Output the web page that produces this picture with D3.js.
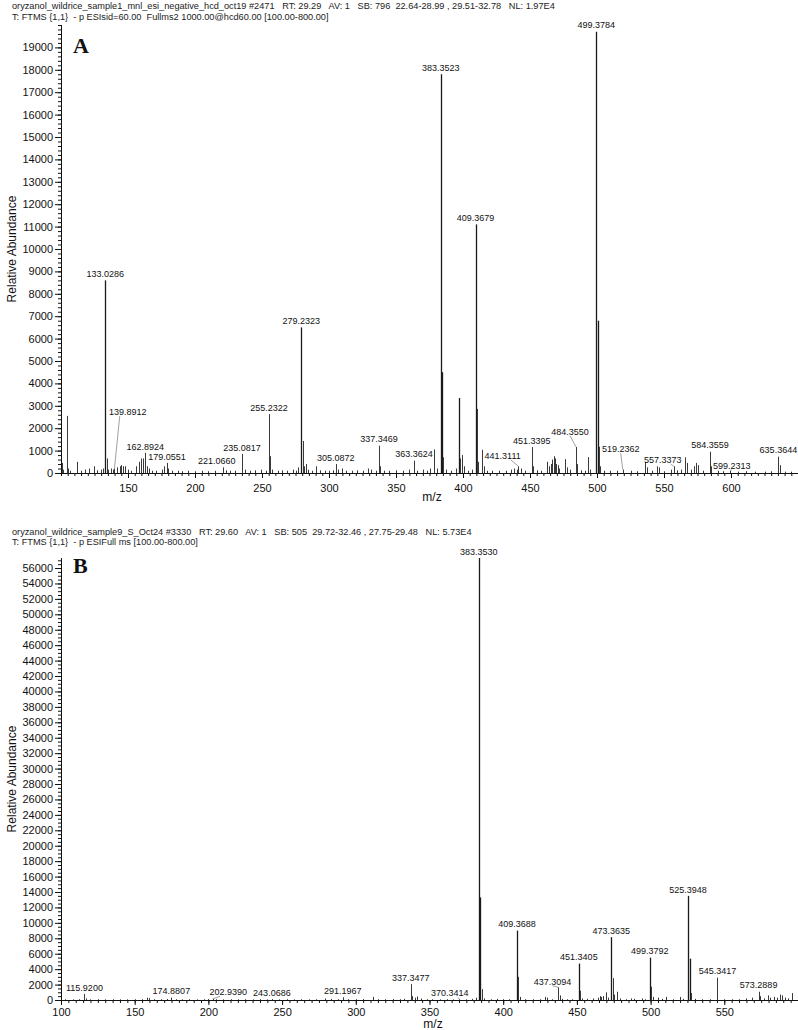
<!DOCTYPE html>
<html><head><meta charset="utf-8">
<script src="https://cdn.jsdelivr.net/npm/d3@7"></script>
<style>
body{margin:0;background:#fff}
svg{display:block}
</style>
</head><body>
<svg id="chart" width="798" height="1030"></svg>
<script>
// ---------------- DATA ----------------
const headerA = [
  "oryzanol_wildrice_sample1_mnl_esi_negative_hcd_oct19 #2471   RT: 29.29   AV: 1   SB: 796  22.64-28.99 , 29.51-32.78   NL: 1.97E4",
  "T: FTMS {1,1}  - p ESIsid=60.00  Fullms2 1000.00@hcd60.00 [100.00-800.00]"
];
const headerB = [
  "oryzanol_wildrice_sample9_S_Oct24 #3330   RT: 29.60   AV: 1   SB: 505  29.72-32.46 , 27.75-29.48   NL: 5.73E4",
  "T: FTMS {1,1}  - p ESIFull ms [100.00-800.00]"
];
const axisTitleY = "Relative Abundance";
const axisTitleX = "m/z";

const xTicksA = [150,200,250,300,350,400,450,500,550,600];
const yTicksA = d3.range(0, 19001, 1000);
const xTicksB = [100,150,200,250,300,350,400,450,500,550];
const yTicksB = d3.range(0, 56001, 2000);

// peaks: [m/z, abundance]
const peaksA = [
 [100.6,450],[101.5,150],[104.2,2550],[105.3,200],[107,100],[111.7,500],[115,100],[118,150],[121,200],[124.3,300],
 [127,120],[130,150],[131.5,200],[133.0286,8600],[134.03,650],[135,150],[137,200],[138.5,150],[139.8912,200],[142,250],
 [144,300],[145,350],[146.5,300],[148,300],[150,150],[152,100],[156,300],[158,500],[159.5,650],[160.9,650],
 [162.8924,900],[164,300],[165.5,200],[168,100],[171,100],[175,150],[177,300],[179.0551,450],[180,200],[183,100],
 [187,100],[190,80],[195,100],[200,80],[205,100],[210,80],[215,100],[221.0660,250],[223,120],[226,100],
 [230,100],[235.0817,850],[237,150],[241,100],[245,120],[249,150],[253,100],[255.2322,2630],[256.23,750],[257.2,150],
 [262,100],[265,120],[269,100],[273,150],[275,100],[277.2,250],[279.2323,6500],[280.23,1430],[281.2,300],[283.2,400],
 [284,150],[287,100],[290,300],[293,120],[297,100],[300,100],[303,120],[305.0872,400],[307,150],[310,200],
 [313,100],[317,100],[321,120],[325,100],[329,200],[331,150],[335,100],[337.3469,1220],[338.35,300],[341,100],
 [345,100],[350,120],[355,100],[360,150],[363.3624,550],[366,100],[370,150],[373,100],[375,200],[378.3,1050],
 [380.5,200],[383.3523,17800],[384.35,4500],[385.36,700],[387,150],[391,100],[395,200],[396.9,3350],[398.0,650],[399.0,800],
 [401,300],[404,100],[407,150],[409.3679,11100],[410.37,2860],[411.38,500],[414.3,1040],[415.3,300],[418,100],[422,100],
 [427,100],[432,100],[436,150],[438,200],[440,150],[441.3111,300],[443,200],[446,100],[451.3395,1160],[452.34,300],
 [455,120],[458,100],[462.4,500],[464,300],[465.5,400],[466.5,600],[467.6,750],[468.5,650],[469.5,400],[471,350],
 [472,200],[476.1,620],[477.3,250],[480,150],[484.3550,1160],[485.36,400],[488,120],[491,100],[493,710],[495,150],
 [499.3784,19700],[500.38,6800],[501.38,1170],[502.4,300],[505,100],[510,100],[515,100],[519.2362,150],[525,100],[530,80],
 [535.8,480],[537,250],[541,100],[545,300],[546,250],[550,80],[555,150],[557.3373,300],[560,120],[563,150],
 [565.7,700],[567.5,450],[570,150],[572.5,300],[574,450],[575.5,350],[579,100],[584.3559,950],[585.36,300],[590,100],
 [594,80],[599.2313,100],[605,60],[611,80],[618,60],[625,60],[630,80],[635.3644,730],[636.37,350],[640,60],[645,60]
];
const peaksB = [
 [103,100],[108,80],[112,100],[115.9200,770],[116.92,200],[120,80],[125,100],[130,80],[135,100],[140,80],
 [145,80],[150,100],[155,100],[158.5,300],[160,250],[163,100],[168,100],[172,120],[174.8807,300],[178,100],
 [182,80],[187,100],[192,80],[197,100],[200,120],[202.9390,150],[205,100],[210,80],[215,100],[220,80],
 [225,100],[230,80],[235,100],[240,80],[243.0686,120],[248,80],[253,100],[258,80],[263,100],[268,80],
 [273,100],[279,200],[283,150],[288,100],[291.1967,350],[295,100],[300,100],[305,120],[311.5,400],[315,100],
 [320,100],[325,120],[330,100],[333,150],[337.3477,2060],[338.35,500],[340,300],[341.3,450],[344,200],[348,100],
 [352,100],[357,80],[362,100],[366,80],[370.3414,100],[375,80],[379,150],[381.5,300],[383.3530,57300],[384.35,13300],
 [385.36,1400],[387,200],[392,100],[396,150],[400,100],[404,100],[409.3688,9000],[410.37,3000],[411.4,400],[415,100],
 [420,100],[425,100],[428.5,400],[430,300],[433,100],[437.3094,1650],[438.31,600],[440,150],[443,100],[447,100],
 [451.3405,4720],[452.34,1200],[453.3,200],[457,150],[461,200],[464,300],[465.5,500],[466.5,400],[468,500],[469.5,1000],
 [471,300],[473.3635,8150],[474.37,2830],[475.37,700],[477.5,1070],[479,200],[483,100],[487,200],[489,150],[494,200],
 [496,100],[499.3792,5490],[500.38,1720],[501.4,400],[505,300],[508,150],[510.5,400],[515,100],[520,400],[522,150],
 [525.3948,13500],[526.4,5360],[527.4,900],[530,150],[535,100],[540,100],[545.3417,2900],[550,100],[555,100],[560,100],
 [565,200],[569,300],[573.2889,1070],[574.3,500],[577,200],[579.5,600],[581,300],[583.5,400],[586,300],[588,700],
 [589,600],[591,300],[593,200],[596,900]
];

// labelled peaks (text = m/z)
const labelsA = ["133.0286","139.8912","162.8924","179.0551","221.0660","235.0817","255.2322","279.2323","305.0872",
 "337.3469","363.3624","383.3523","409.3679","441.3111","451.3395","484.3550","499.3784","519.2362","557.3373",
 "584.3559","599.2313","635.3644"];
const labelsB = ["115.9200","174.8807","202.9390","243.0686","291.1967","337.3477","370.3414","383.3530","409.3688",
 "437.3094","451.3405","473.3635","499.3792","525.3948","545.3417","573.2889"];

// ---------------- LAYOUT ----------------
const FONT = '"Liberation Sans",Arial,Helvetica,sans-serif';
const SERIF = '"Liberation Serif","Times New Roman",serif';
// labels moved off their peak (placed in data units, joined by a leader line)
const movedA = {"139.8912":[149.8,2720],"221.0660":[216.3,null],"441.3111":[429.6,770],"484.3550":[479.9,1840],
  "519.2362":[517.7,1060],"557.3373":[549.0,580],"599.2313":[600.5,330]};
const movedB = {"202.9390":[213.4,1000],"370.3414":[363.7,870],"437.3094":[433.4,2370]};

const panels = [
  {letter:"A", header:headerA, headerY:[8.5,19.5], peaks:peaksA, labels:labelsA, moved:movedA,
   xDomain:[100,650], yDomain:[0,20000], top:25, bottom:473, xTicks:xTicksA, yTicks:yTicksA,
   xMinor:5, yMinor:200, letterY:53, mzX:432, mzY:501, tickLabelY:492, titleY:249},
  {letter:"B", header:headerB, headerY:[535,544.5], peaks:peaksB, labels:labelsB, moved:movedB,
   xDomain:[100,600], yDomain:[0,57300], top:558, bottom:1000, xTicks:xTicksB, yTicks:yTicksB,
   xMinor:5, yMinor:500, letterY:573, mzX:433, mzY:1028, tickLabelY:1016, titleY:779}
];

const LEFT = 61, RIGHT = 798;
const svg = d3.select("#chart");

panels.forEach(p => {
  const g = svg.append("g");
  const x = d3.scaleLinear().domain(p.xDomain).range([LEFT, RIGHT]);
  const y = d3.scaleLinear().domain(p.yDomain).range([p.bottom, p.top]);

  // header
  g.append("g").selectAll("text").data(p.header).join("text")
    .attr("x", 12).attr("y", (d,i) => p.headerY[i])
    .attr("xml:space","preserve").style("white-space","pre")
    .style("font-family", FONT).style("font-size","9.2px").attr("fill","#222")
    .text(d => d);

  // peaks
  g.append("g").selectAll("line").data(p.peaks).join("line")
    .attr("x1", d => Math.round(x(d[0])) + 0.5).attr("x2", d => Math.round(x(d[0])) + 0.5)
    .attr("y1", y(0)).attr("y2", d => y(d[1]))
    .attr("stroke", d => d[1] > 3000 ? "#1a1a1a" : "#3a3a3a")
    .attr("stroke-width", d => d[1] > 3000 ? 1.3 : 1);

  // y axis minor + major
  const yMinorVals = d3.range(p.yDomain[0], p.yDomain[1] + 1, p.yMinor);
  g.append("g").attr("transform", `translate(${LEFT},0)`)
    .call(d3.axisLeft(y).tickValues(yMinorVals).tickSize(3).tickSizeOuter(0).tickFormat(""))
    .call(a => a.select(".domain").remove())
    .selectAll("line").attr("stroke","#111");
  const ya = g.append("g").attr("transform", `translate(${LEFT},0)`)
    .call(d3.axisLeft(y).tickValues(p.yTicks).tickSize(6).tickSizeOuter(0).tickPadding(2).tickFormat(d3.format("d")));
  ya.select(".domain").attr("d", `M0.5,${p.top}V${p.bottom}`);
  ya.selectAll("text").style("font-size","11px").style("font-family", FONT).attr("fill","#111");
  ya.selectAll("line,path").attr("stroke","#111");

  // x axis minor + major
  const xMinorVals = d3.range(p.xDomain[0], p.xDomain[1] + 0.1, p.xMinor);
  g.append("g").attr("transform", `translate(0,${p.bottom})`)
    .call(d3.axisBottom(x).tickValues(xMinorVals).tickSize(3).tickSizeOuter(0).tickFormat(""))
    .call(a => a.select(".domain").remove())
    .selectAll("line").attr("stroke","#111");
  const xa = g.append("g").attr("transform", `translate(0,${p.bottom})`)
    .call(d3.axisBottom(x).tickValues(p.xTicks).tickSize(5).tickSizeOuter(0).tickFormat(d3.format("d")));
  xa.selectAll("text").style("font-size","11px").style("font-family", FONT).attr("fill","#111")
    .attr("y", p.tickLabelY - p.bottom).attr("dy", null);
  xa.selectAll("line,path").attr("stroke","#111");

  // axis titles
  g.append("text").attr("x", p.mzX).attr("y", p.mzY).attr("text-anchor","middle")
    .style("font-family", FONT).style("font-size","12px").attr("fill","#111").text(axisTitleX);
  g.append("text").attr("transform", `translate(16,${p.titleY}) rotate(-90)`).attr("text-anchor","middle")
    .style("font-family", FONT).style("font-size","12px").attr("fill","#111").text(axisTitleY);

  // panel letter
  g.append("text").attr("x", 73).attr("y", p.letterY)
    .style("font-family", SERIF).style("font-weight","bold").style("font-size","22px").attr("fill","#111")
    .text(p.letter);

  // peak labels
  const lab = p.labels.map(t => {
    const mz = +t;
    const pk = p.peaks.reduce((a,b) => Math.abs(b[0]-mz) < Math.abs(a[0]-mz) ? b : a);
    const mv = p.moved[t];
    const px = x(pk[0]), py = y(pk[1]);
    let lx = px, ly = py - 6.5, leader = false;
    if (mv) {
      lx = x(mv[0]);
      if (mv[1] !== null) { ly = y(mv[1]); leader = true; }
    }
    return {t, px, py, lx, ly, leader};
  });
  g.append("g").selectAll("line").data(lab.filter(d => d.leader)).join("line")
    .attr("x1", d => d.lx + (d.px > d.lx + 8 ? 8 : (d.px < d.lx - 8 ? -8 : 0)))
    .attr("y1", d => d.ly + 4)
    .attr("x2", d => d.px).attr("y2", d => d.py)
    .attr("stroke", "#888").attr("stroke-width", 0.8);
  g.append("g").selectAll("text").data(lab).join("text")
    .attr("x", d => d.lx).attr("y", d => d.ly + 3.2)
    .attr("text-anchor","middle").style("font-family", FONT).style("font-size","9px").attr("fill","#111")
    .text(d => d.t);
});
</script>
</body></html>
